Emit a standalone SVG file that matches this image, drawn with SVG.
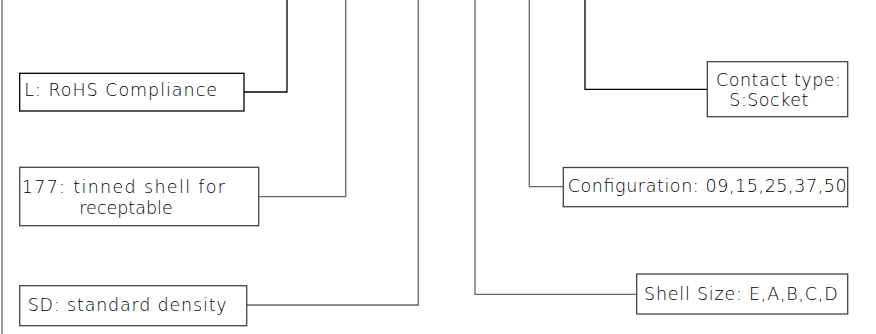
<svg xmlns="http://www.w3.org/2000/svg" width="876" height="334" viewBox="0 0 876 334">
<style>
.box{fill:#fff;stroke:#444;stroke-width:1.3}
.dk{stroke:#000}
.ln{fill:none;stroke:#666;stroke-width:1.3}
.lk{fill:none;stroke:#000;stroke-width:1.3}
text{font-family:"DejaVu Sans","Liberation Sans",sans-serif;font-weight:200;font-size:17.5px;fill:#000}
</style>
<rect width="876" height="334" fill="#fff"/>
<g id="connectors">
<line class="ln" x1="2" y1="0" x2="2" y2="334"/>
<polyline class="lk" points="244,92 287,92 287,0"/>
<polyline class="ln" points="258.7,196.7 345.7,196.7 345.7,0"/>
<polyline class="ln" points="246.7,305 418.3,305 418.3,0"/>
<polyline class="ln" points="636.7,294.3 475,294.3 475,0"/>
<polyline class="ln" points="563.3,186.7 529.3,186.7 529.3,0"/>
<polyline class="lk" points="707.3,89.3 585,89.3 585,0"/>
</g>
<g id="node-rohs">
<rect class="box dk" x="19.7" y="73.3" width="224.3" height="37.7"/>
<text x="24.3" y="96" textLength="192.7" lengthAdjust="spacing">L: RoHS Compliance</text>
</g>
<g id="node-177">
<rect class="box" x="19.7" y="167.3" width="239" height="58.4"/>
<text x="21.7" y="192.5" textLength="203.3" lengthAdjust="spacing">177: tinned shell for</text>
<text x="79.3" y="213.5" textLength="93.4" lengthAdjust="spacing">receptable</text>
</g>
<g id="node-sd">
<rect class="box" x="19.7" y="285.7" width="227" height="40"/>
<text x="27.7" y="310.5" textLength="199" lengthAdjust="spacing">SD: standard density</text>
</g>
<g id="node-contact">
<rect class="box" x="707.3" y="61.7" width="140.4" height="55"/>
<text x="716" y="85.5" textLength="125" lengthAdjust="spacing">Contact type:</text>
<text x="729.3" y="105.5" textLength="79" lengthAdjust="spacing">S:Socket</text>
</g>
<g id="node-config">
<rect class="box" x="563.3" y="167.5" width="284.4" height="39.2"/>
<text x="567.7" y="192" textLength="279" lengthAdjust="spacing">Configuration: 09,15,25,37,50</text>
</g>
<g id="node-shell">
<rect class="box" x="636.7" y="274" width="211" height="40"/>
<text x="644" y="300" textLength="193.7" lengthAdjust="spacing">Shell Size: E,A,B,C,D</text>
</g>
</svg>
